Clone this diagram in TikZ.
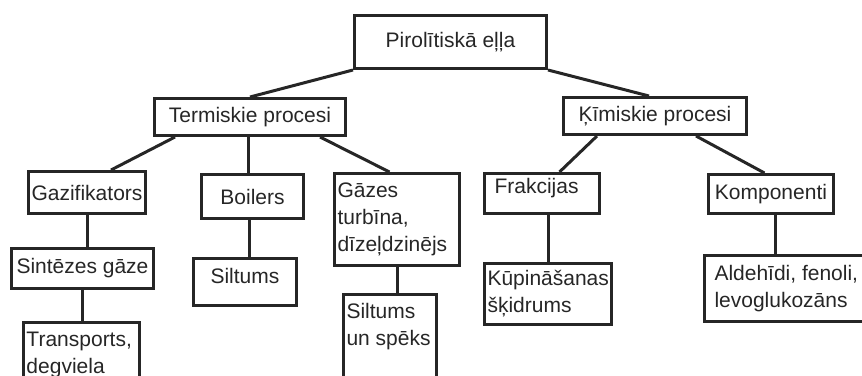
\documentclass[tikz,border=0pt]{standalone}
\usepackage{fontspec}
\setmainfont{Liberation Sans}
\usepackage{tikz}

\tikzset{
  kaste/.style={draw=black!85, line width=1.5pt, anchor=north west, inner sep=0pt,
    text=black!85, font=\fontsize{10.5}{13.5}\selectfont},
  liniija/.style={draw=black!85, line width=1.5pt}
}
\newcommand{\pa}[5]{\parbox[c][#2][#3]{#1}{#4#5}}
\newcommand{\pakreisi}{\raggedright\leftskip=1.5pt\relax}

\begin{document}
\begin{tikzpicture}[x=0.5pt,y=-0.5pt]
\useasboundingbox (0,0) rectangle (862,375);
\clip (0,0) rectangle (862,375);

% kastes
\node[kaste] (sakne) at (353,14) {\pa{96pt}{26.5pt}{c}{\centering}{Pirolītiskā eļļa}};
\node[kaste] (term) at (153,97) {\pa{95.5pt}{18.5pt}{c}{\centering}{Termiskie procesi}};
\node[kaste] (kim) at (562,96) {\pa{91.5pt}{18.5pt}{c}{\centering}{Ķīmiskie procesi}};

\node[kaste] (gaz) at (27,170) {\pa{58.5pt}{21pt}{c}{\centering}{Gazifikators}};
\node[kaste] (sint) at (10,247) {\pa{71pt}{20pt}{c}{\centering}{Sintēzes gāze}};
\node[kaste] (transp) at (22,321) {\pa{58pt}{34.5pt}{t}{\pakreisi}{\rule{0pt}{12pt}Transports,\\degviela}};

\node[kaste] (boil) at (200,173) {\pa{51pt}{22pt}{c}{\centering}{Boilers}};
\node[kaste] (silt) at (192,257) {\pa{51.5pt}{23.5pt}{t}{\centering}{\rule{0pt}{12.5pt}Siltums}};

\node[kaste] (gas) at (333,172) {\pa{62.5pt}{46pt}{c}{\pakreisi}{Gāzes\\turbīna,\\dīzeļdzinējs}};
\node[kaste] (su) at (342,293) {\pa{46.5pt}{48.5pt}{t}{\pakreisi}{\rule{0pt}{12pt}Siltums\\un spēks}};

\node[kaste] (frak) at (483,172) {\pa{57.5pt}{20pt}{t}{\raggedright\leftskip=5pt\relax}{\rule{0pt}{10pt}Frakcijas}};
\node[kaste] (kup) at (483,262) {\pa{63.5pt}{30.5pt}{c}{\pakreisi}{Kūpināšanas\\šķidrums}};

\node[kaste] (komp) at (707,173) {\pa{62.5pt}{19.5pt}{c}{\centering}{Komponenti}};
\node[kaste] (ald) at (703,254) {\pa{86pt}{33pt}{c}{\raggedright\leftskip=5pt\relax}{Aldehīdi, fenoli,\\levoglukozāns}};

% savienojumi
\draw[liniija] (sakne.south west) -- (term.north);
\draw[liniija] (sakne.south east) -- ([xshift=-3pt]kim.north);
\draw[liniija] ([xshift=11pt]term.south west) -- ([xshift=12pt]gaz.north);
\draw[liniija] ([xshift=-0.75pt]term.south) -- ([xshift=-0.75pt]term.south |- boil.north);
\draw[liniija] ([xshift=-13.5pt]term.south east) -- ([xshift=-3.75pt]gas.north);
\draw[liniija] (gaz.south) -- (gaz.south |- sint.north);
\draw[liniija] (sint.south) -- (sint.south |- transp.north);
\draw[liniija] ([xshift=-1.5pt]boil.south) -- ([xshift=-1.5pt]boil.south |- silt.north);
\draw[liniija] (gas.south) -- (gas.south |- su.north);
\draw[liniija] ([xshift=17.5pt]kim.south west) -- ([xshift=8.75pt]frak.north);
\draw[liniija] ([xshift=-26pt]kim.south east) -- ([xshift=-3.25pt]komp.north);
\draw[liniija] (kup.north) -- (kup.north |- frak.south);
\draw[liniija] ([xshift=2pt]komp.south) -- ([xshift=2pt]komp.south |- ald.north);
\end{tikzpicture}
\end{document}
